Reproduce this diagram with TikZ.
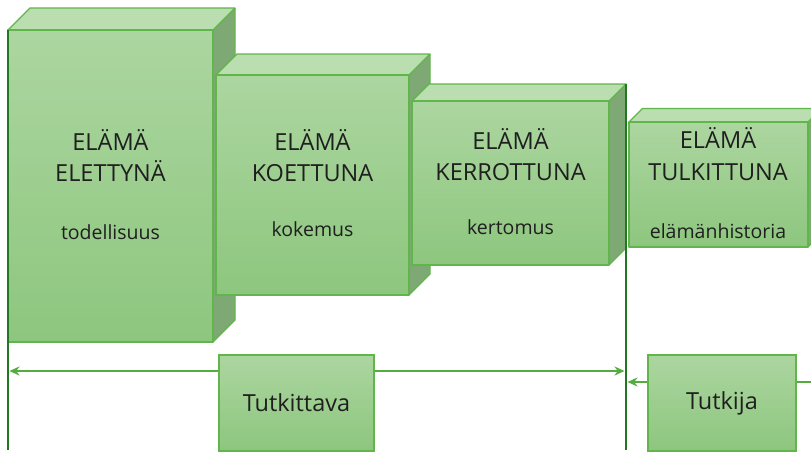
\documentclass[tikz,border=0pt]{standalone}
\usepackage{fontspec}
\setmainfont{Open Sans}
\usetikzlibrary{arrows.meta}
\definecolor{bord}{RGB}{96,182,74}
\definecolor{ftop}{RGB}{172,214,160}
\definecolor{fbot}{RGB}{141,198,126}
\definecolor{tface}{RGB}{186,222,176}
\definecolor{sface}{RGB}{126,168,116}
\definecolor{dline}{RGB}{34,120,34}
\definecolor{arrc}{RGB}{84,172,62}
\newcommand\mycube[5]{%
  \fill[tface] (#1,#2) -- ++(#5,-#5) -- (#3+#5,#2-#5) -- (#3,#2) -- cycle;
  \fill[sface] (#3,#2) -- (#3+#5,#2-#5) -- (#3+#5,#4-#5) -- (#3,#4) -- cycle;
  \shade[top color=ftop,bottom color=fbot] (#1,#2) rectangle (#3,#4);
  \draw[cubeedge] (#1,#2) -- ++(#5,-#5) -- (#3+#5,#2-#5) -- (#3,#2) -- cycle;
  \draw[cubeedge] (#3+#5,#2-#5) -- (#3+#5,#4-#5) -- (#3,#4);
  \draw[cubeedge] (#1,#2) rectangle (#3,#4);
}
\tikzset{
  cubeedge/.style={draw=bord,line width=1.3pt,line join=round},
  title/.style={anchor=base,font=\fontsize{23.5}{26}\selectfont,text=black!88,inner sep=0pt},
  sub/.style={anchor=base,font=\fontsize{19.5}{22}\selectfont,text=black!88,inner sep=0pt},
  role/.style={draw=bord,line width=1.3pt,top color=ftop,bottom color=fbot,minimum width=155pt,minimum height=96pt,font=\fontsize{23.5}{26}\selectfont,text=black!88},
  vline/.style={draw=dline,line width=2.4pt},
  arrline/.style={draw=arrc,line width=2.2pt,-{Stealth[length=10pt,width=9pt]}},
}
\begin{document}
\begin{tikzpicture}[x=1pt,y=-1pt]
\clip (0,0) rectangle (811,453);
\fill[white] (0,0) rectangle (811,453);
% cubes
\mycube{8}{30}{213}{342}{22}
\mycube{216}{75}{409}{295}{21}
\mycube{412}{101}{609}{265}{17}
\mycube{629}{122}{808}{247}{13.5}
% texts
\node[title] (t1a) at (110.5,150) {ELÄMÄ};
\node[title] (t1b) at (110.5,181) {ELETTYNÄ};
\node[sub] (t1c) at (110.5,239) {todellisuus};
\node[title] (t2a) at (312.5,150) {ELÄMÄ};
\node[title] (t2b) at (312.5,181) {KOETTUNA};
\node[sub] (t2c) at (312.5,236) {kokemus};
\node[title] (t3a) at (510.5,149) {ELÄMÄ};
\node[title] (t3b) at (510.5,180) {KERROTTUNA};
\node[sub] (t3c) at (510.5,234) {kertomus};
\node[title] (t4a) at (718,148) {ELÄMÄ};
\node[title] (t4b) at (718,180) {TULKITTUNA};
\node[sub] (t4c) at (718,238) {elämänhistoria};
% vertical lines
\coordinate (v1top) at (8,30);
\coordinate (v1bot) at (8,450);
\coordinate (v2top) at (626,84);
\coordinate (v2bot) at (626,450);
\draw[vline] (v1top) -- (v1bot);
\draw[vline] (v2top) -- (v2bot);
% arrows
\coordinate (aL) at (9.5,371);
\coordinate (aM) at (624.5,371);
\coordinate (bR) at (812,382);
\coordinate (bM) at (627.5,382);
\draw[arrline,{Stealth[length=10pt,width=9pt]}-{Stealth[length=10pt,width=9pt]}] (aL) -- (aM);
\draw[arrline] (bR) -- (bM);
% role boxes
\node[role] (tutkittava) at (296.5,403) {Tutkittava};
\node[role,minimum width=148pt] (tutkija) at (722,403) {Tutkija};
\end{tikzpicture}
\end{document}
